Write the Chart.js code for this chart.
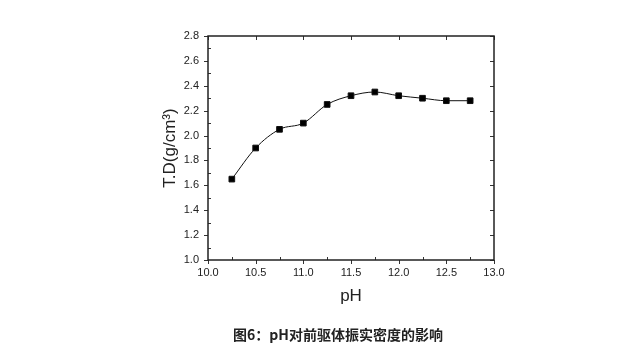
<!DOCTYPE html>
<html>
<head>
<meta charset="utf-8">
<script src="https://cdn.jsdelivr.net/npm/chart.js@4/dist/chart.umd.min.js"></script>
<style>
  html, body { margin: 0; padding: 0; background: #fff; }
  #wrap { position: relative; width: 634px; height: 363px; }
  #legende {
    position: absolute; left: 0; width: 676px; top: 324px;
    text-align: center; color: #222;
    font: bold 14px "Noto Sans CJK SC", sans-serif;
  }
</style>
</head>
<body>
<div id="wrap">
  <canvas id="graph"></canvas>
  <div id="legende">图6：pH对前驱体振实密度的影响</div>
</div>
<script>
// Données
const phValues = [10.25, 10.5, 10.75, 11.0, 11.25, 11.5, 11.75, 12.0, 12.25, 12.5, 12.75];
const densiteValues = [1.65, 1.90, 2.05, 2.10, 2.25, 2.32, 2.35, 2.32, 2.30, 2.28, 2.28];
const xTicks = [10.0, 10.5, 11.0, 11.5, 12.0, 12.5, 13.0];
const yTicks = [1.0, 1.2, 1.4, 1.6, 1.8, 2.0, 2.2, 2.4, 2.6, 2.8];

const points = phValues.map((x, i) => ({ x: x, y: densiteValues[i] }));

// Petites graduations façon Origin (majeures vers l'extérieur, mineures vers l'intérieur)
const ticksPlugin = {
  id: 'origineTicks',
  afterDraw(chart) {
    const ctx = chart.ctx;
    const a = chart.chartArea;
    const xs = chart.scales.x, ys = chart.scales.y;
    ctx.save();
    ctx.strokeStyle = '#333';
    ctx.lineWidth = 1;
    ctx.beginPath();
    xTicks.forEach(v => {
      const px = Math.round(xs.getPixelForValue(v)) + 0.5;
      ctx.moveTo(px, a.bottom); ctx.lineTo(px, a.bottom + 4);
      ctx.moveTo(px, a.top); ctx.lineTo(px, a.top + 4);
    });
    for (let v = 10.25; v < 13; v += 0.5) {
      const px = Math.round(xs.getPixelForValue(v)) + 0.5;
      ctx.moveTo(px, a.bottom); ctx.lineTo(px, a.bottom - 3);
    }
    yTicks.forEach(v => {
      const py = Math.round(ys.getPixelForValue(v)) + 0.5;
      ctx.moveTo(a.left, py); ctx.lineTo(a.left - 4, py);
      ctx.moveTo(a.right, py); ctx.lineTo(a.right - 4, py);
    });
    for (let v = 1.1; v < 2.8; v += 0.2) {
      const py = Math.round(ys.getPixelForValue(v)) + 0.5;
      ctx.moveTo(a.left, py); ctx.lineTo(a.left + 3, py);
    }
    ctx.stroke();
    ctx.lineWidth = 1.5;
    ctx.strokeStyle = '#222';
    ctx.strokeRect(a.left, a.top, a.right - a.left, a.bottom - a.top);
    ctx.restore();
  }
};

new Chart(document.getElementById('graph').getContext('2d'), {
  type: 'scatter',
  data: {
    datasets: [{
      data: points,
      showLine: true,
      borderColor: '#111',
      borderWidth: 1,
      backgroundColor: '#000',
      pointStyle: 'rect',
      pointRadius: 4,
      pointHoverRadius: 4,
      cubicInterpolationMode: 'monotone'
    }]
  },
  options: {
    responsive: true,
    maintainAspectRatio: false,
    animation: false,
    layout: { padding: { left: 160, right: 140, top: 36, bottom: 56 } },
    plugins: {
      legend: { display: false },
      tooltip: { enabled: false }
    },
    scales: {
      x: {
        type: 'linear',
        min: 10.0, max: 13.0,
        afterFit: s => { s.height = 47; },
        afterBuildTicks: s => { s.ticks = xTicks.map(v => ({ value: v })); },
        grid: { display: false, drawTicks: false },
        border: { display: false },
        ticks: {
          padding: 6,
          color: '#222',
          font: { family: 'Liberation Sans, Arial', size: 11 },
          callback: v => v.toFixed(1)
        },
        title: {
          display: true, text: 'pH', color: '#222',
          font: { family: 'Liberation Sans, Arial', size: 17 },
          padding: { top: 4, bottom: 0 }
        }
      },
      y: {
        type: 'linear',
        min: 1.0, max: 2.8,
        afterFit: s => { s.width = 48; },
        afterBuildTicks: s => { s.ticks = yTicks.map(v => ({ value: v })); },
        grid: { display: false, drawTicks: false },
        border: { display: false },
        ticks: {
          padding: 9,
          color: '#222',
          font: { family: 'Liberation Sans, Arial', size: 11 },
          callback: v => v.toFixed(1)
        },
        title: {
          display: true, text: 'T.D(g/cm³)', color: '#222',
          font: { family: 'Liberation Sans, Arial', size: 17 },
          padding: { top: 0, bottom: 4 }
        }
      }
    }
  },
  plugins: [ticksPlugin]
});
</script>
</body>
</html>
